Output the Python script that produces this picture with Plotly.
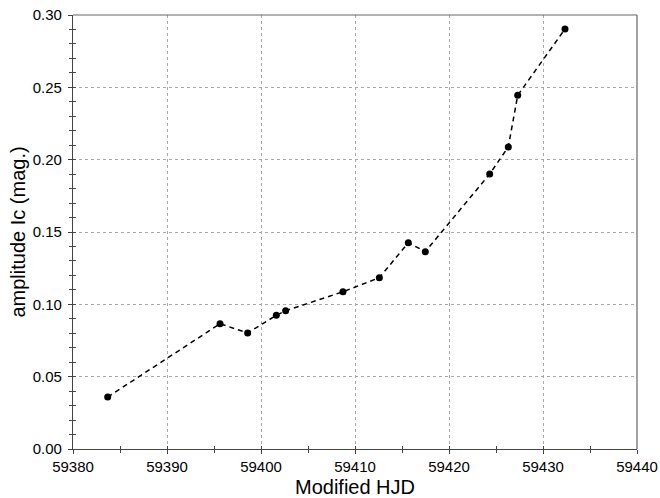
import plotly.graph_objects as go

hjd = [59383.69, 59395.64, 59398.58, 59401.63, 59402.62, 59408.72, 59412.59,
       59415.67, 59417.48, 59424.33, 59426.31, 59427.31, 59432.34]
amplitude = [0.0359, 0.0866, 0.0802, 0.0924, 0.0956, 0.1087, 0.1184,
             0.1426, 0.1364, 0.1901, 0.2088, 0.2445, 0.2903]

x_range = [59380, 59440]
y_range = [0.0, 0.30]

fig = go.Figure()
fig.add_trace(go.Scatter(
    x=hjd, y=amplitude, mode="lines+markers",
    line=dict(color="black", width=1.5, dash="5px,4px"),
    marker=dict(color="black", size=7),
    showlegend=False,
))
# invisible trace on overlay axes to draw inside-facing ticks
fig.add_trace(go.Scatter(x=[x_range[0]], y=[y_range[0]], xaxis="x2", yaxis="y2",
                         mode="markers", marker=dict(opacity=0), showlegend=False,
                         hoverinfo="skip"))

font = "Liberation Sans, Arial, Helvetica, sans-serif"
fig.update_layout(
    width=660, height=498,
    margin=dict(l=73, r=23, t=15, b=49),
    paper_bgcolor="white", plot_bgcolor="white",
    font=dict(family=font, size=15, color="black"),
    xaxis=dict(
        range=x_range, dtick=10, tick0=59380, automargin=False,
        showline=True, linecolor="#444", linewidth=1.2, mirror=False,
        ticks="outside", ticklen=4, tickcolor="#444",
        showgrid=True, gridcolor="#a8a8a8", griddash="3px,3px", gridwidth=0.8,
        zeroline=False,
        tickfont=dict(size=15),
        tickformat="d",
        minor=dict(dtick=5, ticks="outside", ticklen=3, tickcolor="#444", showgrid=False),
        title=dict(text="Modified HJD", font=dict(size=20), standoff=5),
    ),
    yaxis=dict(
        range=y_range, dtick=0.05, automargin=False,
        showline=True, linecolor="#444", linewidth=1.2, mirror=False,
        ticks="outside", ticklen=4, tickcolor="#444",
        ticklabelstandoff=3,
        showgrid=True, gridcolor="#a8a8a8", griddash="3px,3px", gridwidth=0.8,
        zeroline=False,
        tickfont=dict(size=15),
        tickformat=".2f",
        minor=dict(dtick=0.01, ticks="outside", ticklen=3, tickcolor="#444", showgrid=False),
        title=dict(text="amplitude Ic (mag.)", font=dict(size=20), standoff=1),
    ),
    xaxis2=dict(
        range=x_range, overlaying="x", side="bottom", dtick=5, tick0=59380,
        showticklabels=False, showgrid=False, zeroline=False, automargin=False,
        ticks="inside", ticklen=3, tickcolor="#444",
        showline=False,
    ),
    yaxis2=dict(
        range=y_range, overlaying="y", side="left", dtick=0.01,
        showticklabels=False, showgrid=False, zeroline=False, automargin=False,
        ticks="inside", ticklen=3, tickcolor="#444",
        showline=False,
    ),
    shapes=[
        dict(type="line", xref="paper", yref="paper", x0=0, x1=1, y0=1, y1=1,
             line=dict(color="#666", width=1.2)),
        dict(type="line", xref="paper", yref="paper", x0=1, x1=1, y0=0, y1=1,
             line=dict(color="#666", width=1.2)),
    ],
)

fig.write_html("out.html",
               config={"displayModeBar": False},
               post_script="document.body.style.margin='0';document.body.style.padding='0';")
